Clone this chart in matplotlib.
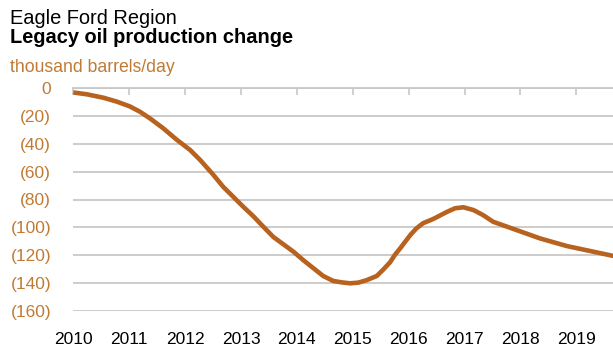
import matplotlib
matplotlib.use("Agg")
import matplotlib.pyplot as plt
from matplotlib.ticker import FuncFormatter

plt.rcParams['font.family'] = ['Liberation Sans', 'DejaVu Sans']

# Legacy oil production change, Eagle Ford region (thousand barrels/day)
years = [2010.00, 2010.24, 2010.54, 2010.78, 2011.01, 2011.19, 2011.37, 2011.61,
         2011.85, 2012.09, 2012.27, 2012.50, 2012.68, 2012.86, 2013.04, 2013.22,
         2013.40, 2013.58, 2013.76, 2013.94, 2014.11, 2014.26, 2014.47, 2014.65,
         2014.80, 2014.95, 2015.10, 2015.25, 2015.43, 2015.55, 2015.67, 2015.75,
         2015.85, 2016.03, 2016.14, 2016.26, 2016.44, 2016.68, 2016.83, 2016.98,
         2017.16, 2017.33, 2017.51, 2017.93, 2018.35, 2018.83, 2019.24, 2019.66]
change = [-3.0, -4.3, -6.8, -9.6, -13.0, -16.8, -21.6, -28.8,
          -37.0, -44.4, -51.6, -62.0, -70.8, -78.0, -85.2, -92.0,
          -99.6, -107.0, -112.3, -117.6, -123.5, -128.3, -135.0, -138.6,
          -139.6, -140.3, -139.8, -138.0, -135.0, -130.2, -125.0, -120.0,
          -115.0, -105.5, -100.7, -97.0, -94.0, -89.0, -86.3, -85.6,
          -87.6, -91.2, -96.0, -102.0, -108.0, -113.5, -117.0, -120.6]

year_ticks = list(range(2010, 2020))
y_ticks = [0, -20, -40, -60, -80, -100, -120, -140, -160]

line_color = '#B8621F'
label_color = '#C17A34'
grid_color = '#C8C8C8'

W, H = 613, 345
fig = plt.figure(figsize=(W / 100, H / 100), dpi=100)
ax = fig.add_axes([73.3 / W, (H - 310.7) / H, (W - 73.3) / W, (310.7 - 88.3) / H])

ax.plot(years, change, color=line_color, lw=3.3, solid_capstyle='butt',
        solid_joinstyle='round', clip_on=False, zorder=3)

ax.set_xlim(2010, 2019.655)
ax.set_ylim(-160, 0)
ax.set_yticks(y_ticks)
ax.yaxis.set_major_formatter(FuncFormatter(
    lambda v, _: '0' if v == 0 else f'({abs(int(round(v)))})'))
ax.set_xticks(year_ticks)
ax.set_xticklabels([str(y) for y in year_ticks])

ax.grid(axis='y', color=grid_color, lw=1.3)
ax.set_axisbelow(True)
for side in ('left', 'right', 'bottom'):
    ax.spines[side].set_visible(False)
ax.spines['top'].set_color(grid_color)
ax.spines['top'].set_linewidth(1.3)

ax.tick_params(axis='y', length=0, pad=16, labelsize=12.5, labelcolor=label_color)
ax.tick_params(axis='x', bottom=False, top=True, labelbottom=True, labeltop=False,
               direction='in', length=5, width=1.2, color=grid_color,
               labelsize=12.5, labelcolor='black', pad=15)

fig.text(10 / W, 1 - 24.3 / H, 'Eagle Ford Region', fontsize=14.4, color='black')
fig.text(10 / W, 1 - 43.3 / H, 'Legacy oil production change', fontsize=14.4,
         fontweight='bold', color='black')
fig.text(10 / W, 1 - 71.7 / H, 'thousand barrels/day', fontsize=12.7, color=label_color)

fig.savefig('out.png', dpi=100)
